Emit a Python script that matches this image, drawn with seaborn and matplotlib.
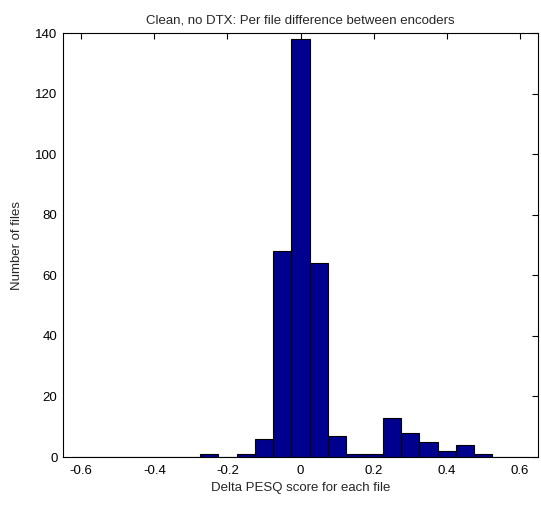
import seaborn as sns
import matplotlib.pyplot as plt
import pandas as pd

# bin centres and counts
centers = [-0.60, -0.55, -0.50, -0.45, -0.40, -0.35, -0.30, -0.25, -0.20, -0.15, -0.10, -0.05, 0.00,
           0.05, 0.10, 0.15, 0.20, 0.25, 0.30, 0.35, 0.40, 0.45, 0.50, 0.55, 0.60]
counts = [0, 0, 0, 0, 0, 0, 0, 1, 0, 1, 6, 68, 138,
          64, 7, 1, 1, 13, 8, 5, 2, 4, 1, 0, 0]
xticks = [-0.6, -0.4, -0.2, 0, 0.2, 0.4, 0.6]
yticks = [0, 20, 40, 60, 80, 100, 120, 140]

df = pd.DataFrame({'delta': centers, 'n': counts})

sns.set_style('white')
plt.rcParams['font.family'] = ['Liberation Sans', 'DejaVu Sans']

fig = plt.figure(figsize=(5.41, 5.26), dpi=100)
ax = fig.add_axes([63/541, 1 - 457/526, 475/541, 424/526])

sns.histplot(data=df, x='delta', weights='n', binwidth=0.05, binrange=(-0.625, 0.625), ax=ax,
             color='#00008F', alpha=1, edgecolor='black', linewidth=0.8)

ax.set_xlim(-0.65, 0.65)
ax.set_ylim(0, 140)
ax.set_xticks(xticks)
ax.set_xticklabels(['-0.6', '-0.4', '-0.2', '0', '0.2', '0.4', '0.6'])
ax.set_yticks(yticks)
ax.tick_params(direction='in', top=True, right=True, length=4, width=0.8,
               labelsize=9.5, colors='black')
ax.tick_params(axis='x', pad=6)
ax.tick_params(axis='y', pad=4)
for s in ax.spines.values():
    s.set_color('black')
    s.set_linewidth(0.8)

ax.set_title('Clean, no DTX: Per file difference between encoders', fontsize=9.5, pad=7)
ax.set_xlabel('Delta PESQ score for each file', fontsize=9.5, labelpad=3)
ax.set_ylabel('Number of files', fontsize=9.5, labelpad=9)

fig.savefig('out.png', dpi=100)
